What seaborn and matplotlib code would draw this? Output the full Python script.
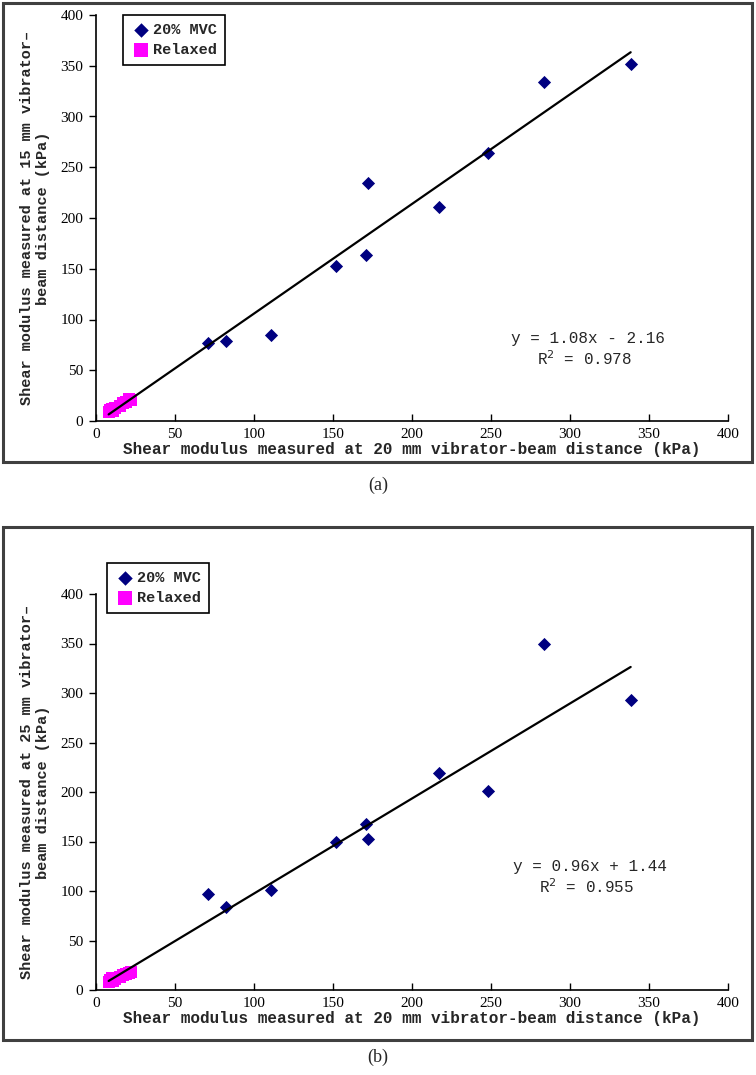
import numpy as np
import pandas as pd
import seaborn as sns
import matplotlib
matplotlib.use("Agg")
import matplotlib.pyplot as plt
from matplotlib.patches import Rectangle

# ---------------- data ----------------
groups = ["20% MVC", "Relaxed"]

mvc_x = [70.7, 82.1, 110.6, 151.9, 170.7, 172.0, 217.0, 248.3, 283.8, 338.4]
a_mvc_y = [77.1, 78.8, 84.7, 153.0, 163.5, 234.0, 211.0, 264.3, 334.3, 351.4]
b_mvc_y = [97.0, 84.0, 101.0, 150.0, 168.0, 153.0, 219.0, 201.0, 350.0, 293.0]

relaxed_x = [8, 9, 10, 11, 12, 15, 17, 19, 21, 22]
a_relaxed_y = [9, 11, 12, 10, 13, 15, 18, 19, 22, 21]
b_relaxed_y = [8, 10, 12, 9, 11, 13, 15, 16, 17, 18]

a_fit = (1.08, -2.16, 0.978)
b_fit = (0.96, 1.44, 0.955)

ticks = [0, 50, 100, 150, 200, 250, 300, 350, 400]
xlabel = "Shear modulus measured at 20 mm vibrator-beam distance (kPa)"
a_ylabel = "Shear modulus measured at 15 mm vibrator\u2013\nbeam distance (kPa)"
b_ylabel = "Shear modulus measured at 25 mm vibrator\u2013\nbeam distance (kPa)"

# ---------------- figure ----------------
sns.set_theme(style="white")
plt.rcParams["font.family"] = ["Liberation Serif", "DejaVu Serif"]

W, H = 756, 1075
fig = plt.figure(figsize=(W / 100, H / 100), dpi=100)


def fx(px):
    return px / W


def fy(py):
    return 1 - py / H


mono = ["Liberation Mono", "DejaVu Sans Mono"]
palette = {"20% MVC": "#000080", "Relaxed": "#FF00FF"}
markers = {"20% MVC": "D", "Relaxed": "s"}
sizes = {"20% MVC": 45, "Relaxed": 75}


def panel(ax_box, mvc_y, rel_y, fit, ylabel, frame, caption, cap_text, legend_pos, eq_pos):
    x0, y0, x1, y1 = frame
    fig.patches.append(Rectangle((fx(x0), fy(y1)), fx(x1) - fx(x0), fy(y0) - fy(y1),
                                 transform=fig.transFigure, fill=False,
                                 edgecolor="#404040", linewidth=2.2, zorder=0))
    ax = fig.add_axes(ax_box)
    df = pd.DataFrame({
        "x": list(mvc_x) + list(relaxed_x),
        "y": list(mvc_y) + list(rel_y),
        "group": [groups[0]] * len(mvc_x) + [groups[1]] * len(relaxed_x),
    })
    for g in groups:
        sub = df[df["group"] == g]
        sns.scatterplot(data=sub, x="x", y="y", color=palette[g], marker=markers[g],
                        s=sizes[g], linewidth=0, ax=ax, label=g, zorder=3)
    slope, icpt, r2 = fit
    lx = np.array([min(df["x"]), max(df["x"])])
    sns.lineplot(x=lx, y=slope * lx + icpt, color="black", linewidth=1.6, ax=ax,
                 zorder=4, legend=False)
    ax.set_xlim(0, 400)
    ax.set_ylim(0, 400)
    ax.set_xticks(ticks)
    ax.set_yticks(ticks)
    for s in ["top", "right"]:
        ax.spines[s].set_visible(False)
    for s in ["left", "bottom"]:
        ax.spines[s].set_color("black")
        ax.spines[s].set_linewidth(1.2)
    ax.tick_params(axis="x", direction="in", length=5, width=1, colors="black",
                   labelsize=11, pad=5, bottom=True)
    ax.tick_params(axis="y", direction="out", length=5, width=1, colors="black",
                   labelsize=11, pad=4, left=True)
    ax.set_xlabel(xlabel, fontsize=11.5, fontweight="bold", family=mono, labelpad=1)
    ax.set_ylabel(ylabel, fontsize=11, fontweight="bold", family=mono, labelpad=8,
                  linespacing=1.1)
    ax.patch.set_alpha(0)
    leg = ax.legend(loc="upper left", bbox_to_anchor=(fx(legend_pos[0]), fy(legend_pos[1])),
                    bbox_transform=fig.transFigure, borderaxespad=0, frameon=True,
                    fancybox=False, edgecolor="black", framealpha=1,
                    handletextpad=0.2, handlelength=1.2, borderpad=0.55,
                    labelspacing=0.35, markerscale=1.1,
                    prop={"family": mono, "weight": "bold", "size": 11})
    leg.get_frame().set_linewidth(1.2)
    sign = "-" if icpt < 0 else "+"
    fig.text(fx(eq_pos[0]), fy(eq_pos[1]), f"y = {slope:.2f}x {sign} {abs(icpt):.2f}",
             ha="center", va="center", fontsize=11.5, family=mono)
    fig.text(fx(eq_pos[0] - 3), fy(eq_pos[1] + 21), f"R$^2$ = {r2:.3f}",
             ha="center", va="center", fontsize=11.5, family=mono)
    fig.text(0.5, fy(caption), cap_text, ha="center", va="center", fontsize=13)
    return ax


panel([fx(96), fy(421), fx(728) - fx(96), fy(15) - fy(421)],
      a_mvc_y, a_relaxed_y, a_fit, a_ylabel,
      (3, 3, 752, 462), 485, "(a)", (123, 15), (588, 338))

panel([fx(96), fy(990), fx(728) - fx(96), fy(594) - fy(990)],
      b_mvc_y, b_relaxed_y, b_fit, b_ylabel,
      (3, 527, 752, 1040), 1057, "(b)", (107, 563), (590, 866))

fig.savefig("out.png", dpi=100, facecolor="white")
